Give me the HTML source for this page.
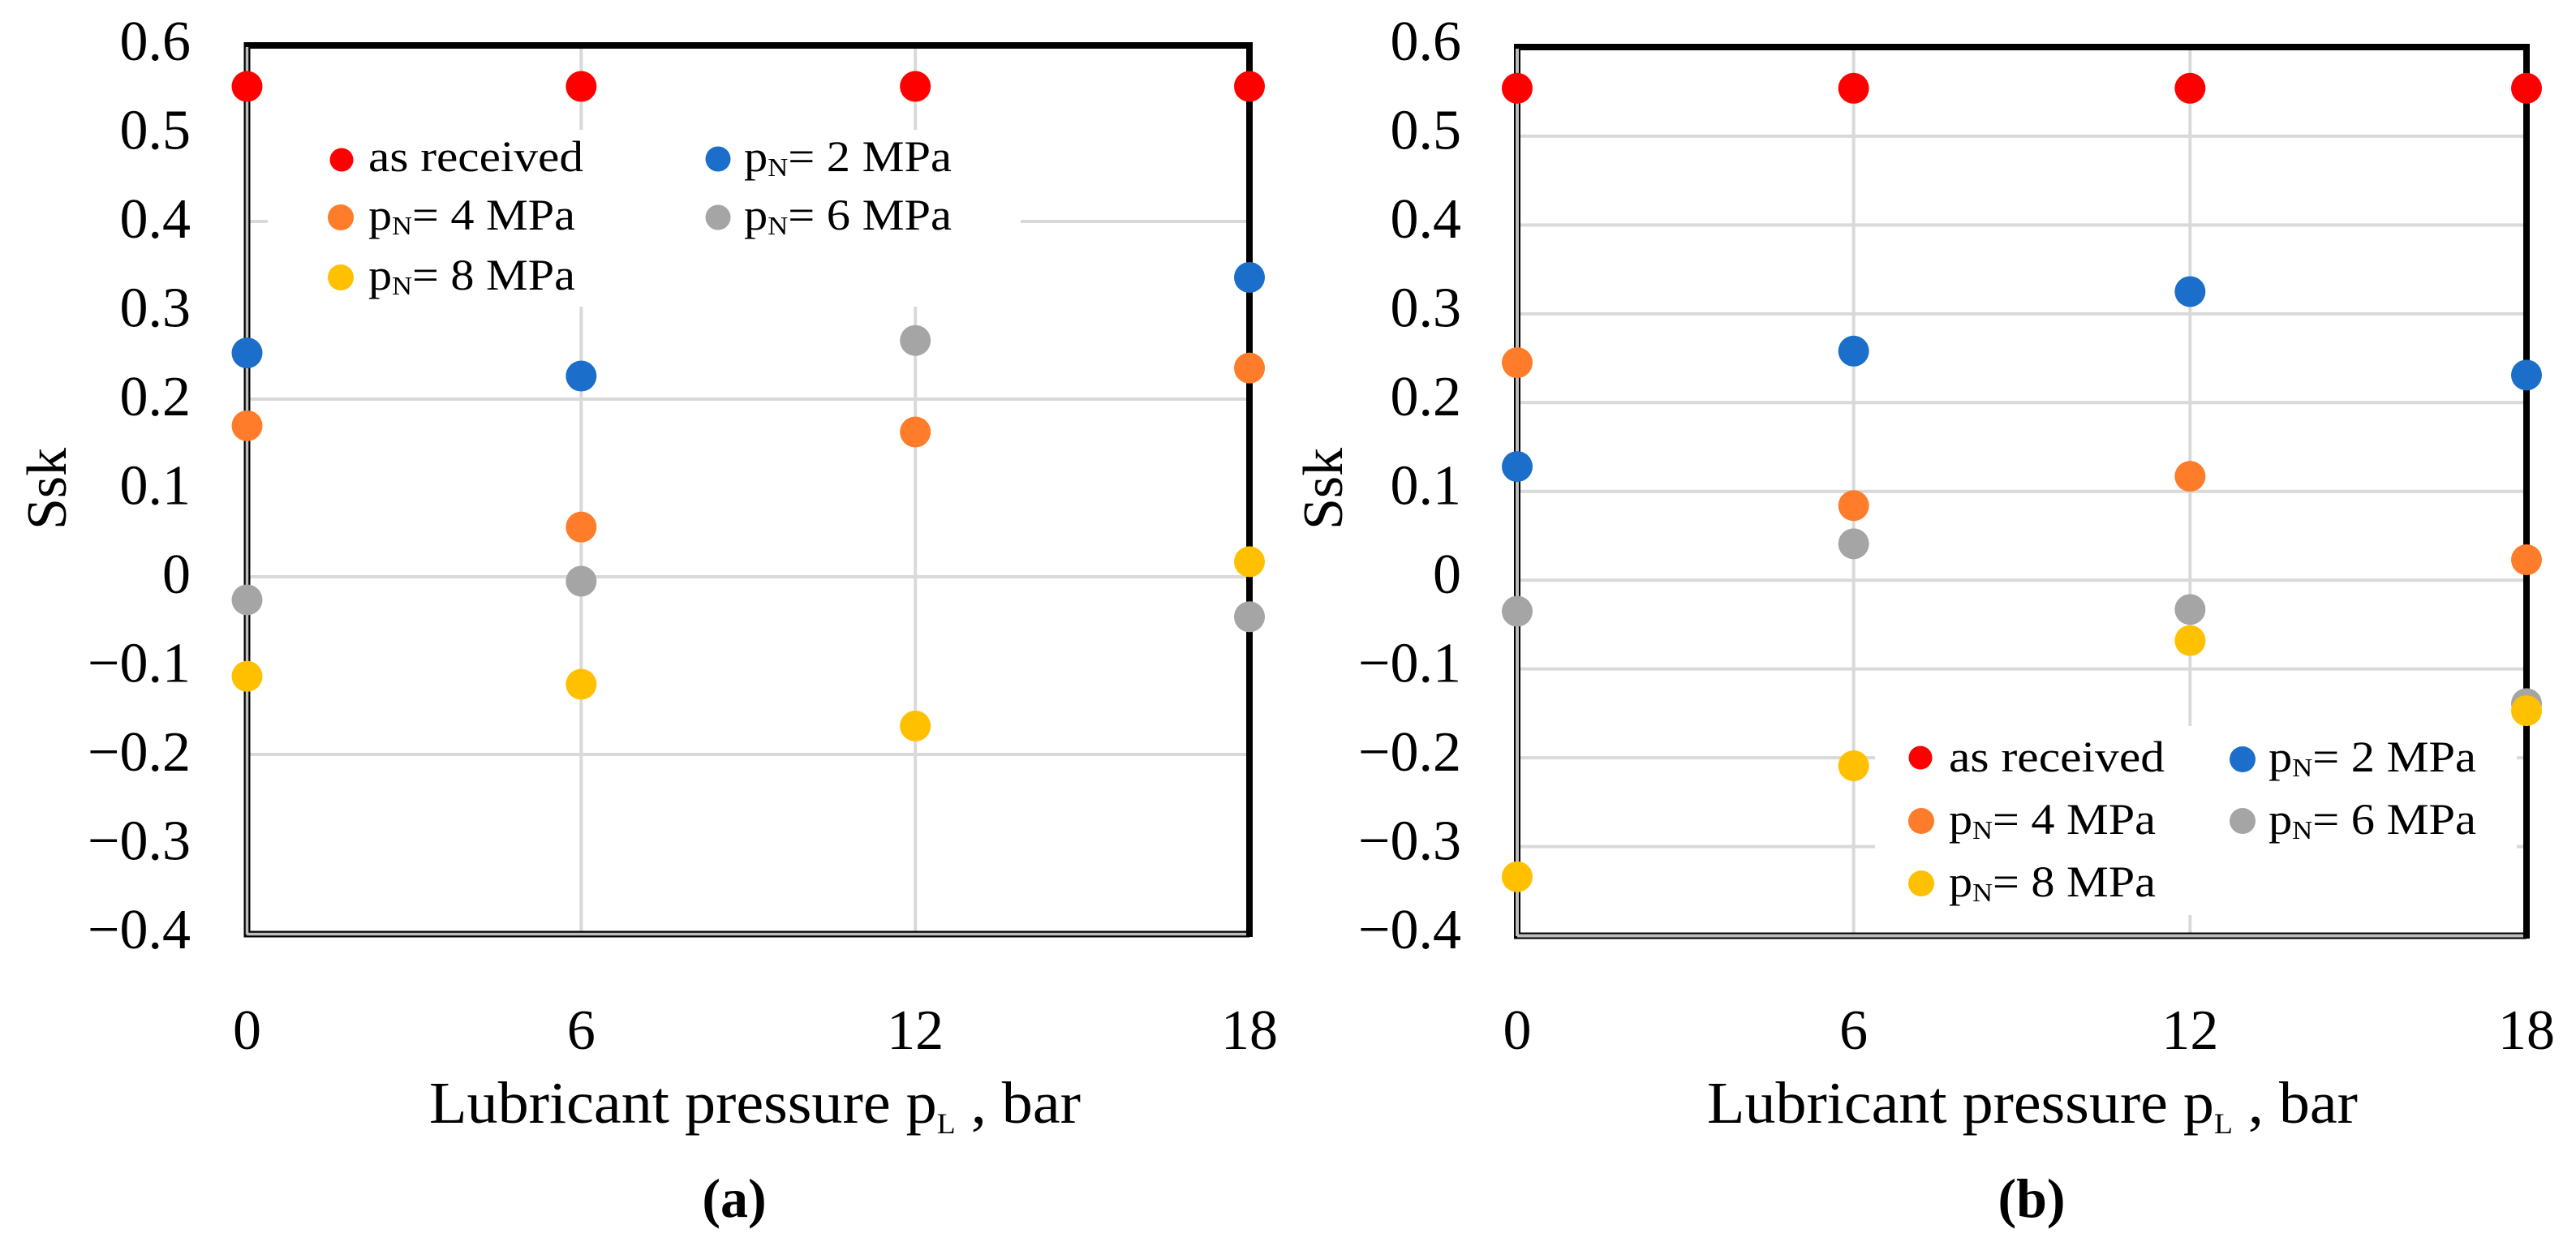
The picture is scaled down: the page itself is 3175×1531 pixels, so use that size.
<!DOCTYPE html>
<html lang="en">
<head>
<meta charset="utf-8">
<title>Ssk versus lubricant pressure</title>
<style>
html,body{margin:0;padding:0;background:#fff;width:3175px;height:1531px;overflow:hidden}
svg{display:block}
text{font-family:"Liberation Serif","DejaVu Serif",serif;fill:#000}
</style>
</head>
<body>
<svg id="figure" xmlns="http://www.w3.org/2000/svg" width="3175" height="1531" viewBox="0 0 3175 1531">
  <rect x="0" y="0" width="3175" height="1531" fill="#fff"/>

  <g id="chart-a">
    <g id="grid-a"></g>
    <g>
      <line x1="300.5" y1="56" x2="1544" y2="56" stroke="#000" stroke-width="8"/>
      <line x1="1540" y1="52" x2="1540" y2="1155" stroke="#000" stroke-width="8"/>
      <line x1="304.5" y1="52" x2="304.5" y2="1155" stroke="#000" stroke-width="8"/>
      <line x1="300.5" y1="1151.5" x2="1540" y2="1151.5" stroke="#000" stroke-width="8"/>
      <line x1="304.5" y1="58" x2="304.5" y2="1152" stroke="#bdbdbd" stroke-width="3.5"/>
      <line x1="304" y1="1151.5" x2="1536" y2="1151.5" stroke="#bdbdbd" stroke-width="3.5"/>
    </g>
    <g id="y-ticks-a"></g>
    <g id="x-ticks-a"></g>
    <g id="marks-a"></g>

    <g>
      <rect x="330" y="160" width="928" height="218" fill="#fff"/>
      <g>
        <circle cx="421" cy="197" r="14.5" fill="#ff0000"/>
        <text x="454" y="211" font-size="54" textLength="265" lengthAdjust="spacingAndGlyphs">as received</text>
      </g>
      <g>
        <circle cx="420" cy="268" r="16" fill="#ff7c2a"/>
        <text x="454" y="283" font-size="54" textLength="255" lengthAdjust="spacingAndGlyphs">p<tspan font-size="32" dy="6">N</tspan><tspan dy="-6">= 4 MPa</tspan></text>
      </g>
      <g>
        <circle cx="420" cy="342" r="16" fill="#ffc000"/>
        <text x="454" y="357" font-size="54" textLength="255" lengthAdjust="spacingAndGlyphs">p<tspan font-size="32" dy="6">N</tspan><tspan dy="-6">= 8 MPa</tspan></text>
      </g>
      <g>
        <circle cx="885" cy="196" r="15.5" fill="#1b6ec9"/>
        <text x="917" y="211" font-size="54" textLength="256" lengthAdjust="spacingAndGlyphs">p<tspan font-size="32" dy="6">N</tspan><tspan dy="-6">= 2 MPa</tspan></text>
      </g>
      <g>
        <circle cx="885" cy="268" r="15.5" fill="#a5a5a5"/>
        <text x="917" y="283" font-size="54" textLength="256" lengthAdjust="spacingAndGlyphs">p<tspan font-size="32" dy="6">N</tspan><tspan dy="-6">= 6 MPa</tspan></text>
      </g>
    </g>

    <text transform="translate(81,653) rotate(-90)" font-size="70">Ssk</text>
    <text x="529" y="1384" font-size="73" textLength="803" lengthAdjust="spacingAndGlyphs">Lubricant pressure p<tspan font-size="36" dy="13">L</tspan><tspan dy="-13"> , bar</tspan></text>
    <text x="905" y="1500" font-size="68" font-weight="bold" text-anchor="middle">(a)</text>
  </g>

  <g id="chart-b">
    <g id="grid-b"></g>
    <g>
      <line x1="1866" y1="58" x2="3118" y2="58" stroke="#000" stroke-width="8"/>
      <line x1="3114" y1="54" x2="3114" y2="1157" stroke="#000" stroke-width="8"/>
      <line x1="1870" y1="54" x2="1870" y2="1157" stroke="#000" stroke-width="8"/>
      <line x1="1866" y1="1153.5" x2="3114" y2="1153.5" stroke="#000" stroke-width="8"/>
      <line x1="1870" y1="60" x2="1870" y2="1154" stroke="#bdbdbd" stroke-width="4"/>
      <line x1="1870" y1="1153.5" x2="3110" y2="1153.5" stroke="#bdbdbd" stroke-width="4"/>
    </g>
    <g id="y-ticks-b"></g>
    <g id="x-ticks-b"></g>
    <g id="marks-b"></g>

    <g>
      <rect x="2311" y="895" width="791" height="233" fill="#fff"/>
      <g>
        <circle cx="2367" cy="934" r="14.5" fill="#ff0000"/>
        <text x="2402" y="951" font-size="54" textLength="266" lengthAdjust="spacingAndGlyphs">as received</text>
      </g>
      <g>
        <circle cx="2368" cy="1012" r="16" fill="#ff7c2a"/>
        <text x="2402" y="1028" font-size="54" textLength="255" lengthAdjust="spacingAndGlyphs">p<tspan font-size="32" dy="6">N</tspan><tspan dy="-6">= 4 MPa</tspan></text>
      </g>
      <g>
        <circle cx="2368" cy="1089" r="16" fill="#ffc000"/>
        <text x="2402" y="1105" font-size="54" textLength="255" lengthAdjust="spacingAndGlyphs">p<tspan font-size="32" dy="6">N</tspan><tspan dy="-6">= 8 MPa</tspan></text>
      </g>
      <g>
        <circle cx="2764" cy="936" r="16" fill="#1b6ec9"/>
        <text x="2796" y="951" font-size="54" textLength="256" lengthAdjust="spacingAndGlyphs">p<tspan font-size="32" dy="6">N</tspan><tspan dy="-6">= 2 MPa</tspan></text>
      </g>
      <g>
        <circle cx="2764" cy="1012" r="16" fill="#a5a5a5"/>
        <text x="2796" y="1028" font-size="54" textLength="256" lengthAdjust="spacingAndGlyphs">p<tspan font-size="32" dy="6">N</tspan><tspan dy="-6">= 6 MPa</tspan></text>
      </g>
    </g>

    <text transform="translate(1654,653) rotate(-90)" font-size="70">Ssk</text>
    <text x="2104" y="1384" font-size="73" textLength="802" lengthAdjust="spacingAndGlyphs">Lubricant pressure p<tspan font-size="36" dy="13">L</tspan><tspan dy="-13"> , bar</tspan></text>
    <text x="2504" y="1500" font-size="68" font-weight="bold" text-anchor="middle">(b)</text>
  </g>
</svg>

<script>
// Shared categories and tick labels
const pressures = [0, 6, 12, 18];
const yTickValues = [0.6, 0.5, 0.4, 0.3, 0.2, 0.1, 0, -0.1, -0.2, -0.3, -0.4];
const yTickLabels = ['0.6', '0.5', '0.4', '0.3', '0.2', '0.1', '0', '\u22120.1', '\u22120.2', '\u22120.3', '\u22120.4'];
const xTickLabels = ['0', '6', '12', '18'];
const verticalGridPressures = [6, 12];

// Panel (a) values, in the order of pressures; null = hidden by the legend
const aAsReceived = [0.552, 0.552, 0.552, 0.552];
const a2MPa = [0.252, 0.226, null, 0.337];
const a4MPa = [0.170, 0.056, 0.163, 0.235];
const a6MPa = [-0.026, -0.005, 0.266, -0.045];
const a8MPa = [-0.112, -0.121, -0.168, 0.017];
const aGridValues = [0.4, 0.2, 0, -0.2];

// Panel (b) values, in the order of pressures
const bAsReceived = [0.554, 0.554, 0.554, 0.554];
const b2MPa = [0.128, 0.258, 0.325, 0.231];
const b4MPa = [0.245, 0.084, 0.117, 0.023];
const b6MPa = [-0.035, 0.041, -0.033, -0.139];
const b8MPa = [-0.334, -0.209, -0.068, -0.147];
const bGridValues = [0.5, 0.4, 0.3, 0.2, 0.1, 0, -0.1, -0.2, -0.3];

const seriesNames = ['as-received', 'pn-2-mpa', 'pn-4-mpa', 'pn-6-mpa', 'pn-8-mpa'];
const seriesColors = ['#ff0000', '#1b6ec9', '#ff7c2a', '#a5a5a5', '#ffc000'];

const NS = 'http://www.w3.org/2000/svg';

function xScaleA(p) { return 304.5 + p * (1540 - 304.5) / 18; }
function yScaleA(v) { return 711 - v * 1095; }
function xScaleB(p) { return 1870 + p * (3114 - 1870) / 18; }
function yScaleB(v) { return 715.2 - v * 1094.6; }
function tickBaseline(v) { return 74 + (0.6 - v) * 1095; }

function drawPanel(suffix, xScale, yScale, gridValues, allSeries, yLabelRight, left, right, top, bottom) {
  const grid = document.getElementById('grid-' + suffix);
  gridValues.forEach(function (v) {
    const line = document.createElementNS(NS, 'line');
    
    
    line.setAttribute('x1', left);
    line.setAttribute('x2', right);
    line.setAttribute('y1', yScale(v));
    line.setAttribute('y2', yScale(v));
    line.setAttribute('stroke', '#d9d9d9');
    line.setAttribute('stroke-width', 4);
    grid.appendChild(line);
  });
  verticalGridPressures.forEach(function (p) {
    const line = document.createElementNS(NS, 'line');
    
    
    line.setAttribute('x1', xScale(p));
    line.setAttribute('x2', xScale(p));
    line.setAttribute('y1', top);
    line.setAttribute('y2', bottom);
    line.setAttribute('stroke', '#d9d9d9');
    line.setAttribute('stroke-width', 4);
    grid.appendChild(line);
  });

  const yTicks = document.getElementById('y-ticks-' + suffix);
  yTickValues.forEach(function (v, i) {
    const label = document.createElementNS(NS, 'text');
    
    
    label.setAttribute('x', yLabelRight);
    label.setAttribute('y', tickBaseline(v));
    label.setAttribute('font-size', 70);
    label.setAttribute('text-anchor', 'end');
    label.textContent = yTickLabels[i];
    yTicks.appendChild(label);
  });

  const xTicks = document.getElementById('x-ticks-' + suffix);
  pressures.forEach(function (p, i) {
    const label = document.createElementNS(NS, 'text');
    
    
    label.setAttribute('x', xScale(p));
    label.setAttribute('y', 1293);
    label.setAttribute('font-size', 70);
    label.setAttribute('text-anchor', 'middle');
    label.textContent = xTickLabels[i];
    xTicks.appendChild(label);
  });

  const marks = document.getElementById('marks-' + suffix);
  allSeries.forEach(function (values, s) {
    values.forEach(function (v, i) {
      if (v === null) return;
      const dot = document.createElementNS(NS, 'circle');
      
      
      dot.setAttribute('cx', xScale(pressures[i]));
      dot.setAttribute('cy', yScale(v));
      dot.setAttribute('r', 19);
      dot.setAttribute('fill', seriesColors[s]);
      marks.appendChild(dot);
    });
  });
}

drawPanel('a', xScaleA, yScaleA, aGridValues, [aAsReceived, a2MPa, a4MPa, a6MPa, a8MPa], 235, 308, 1536, 60, 1148);
drawPanel('b', xScaleB, yScaleB, bGridValues, [bAsReceived, b2MPa, b4MPa, b6MPa, b8MPa], 1801, 1874, 3110, 62, 1150);
</script>
</body>
</html>
